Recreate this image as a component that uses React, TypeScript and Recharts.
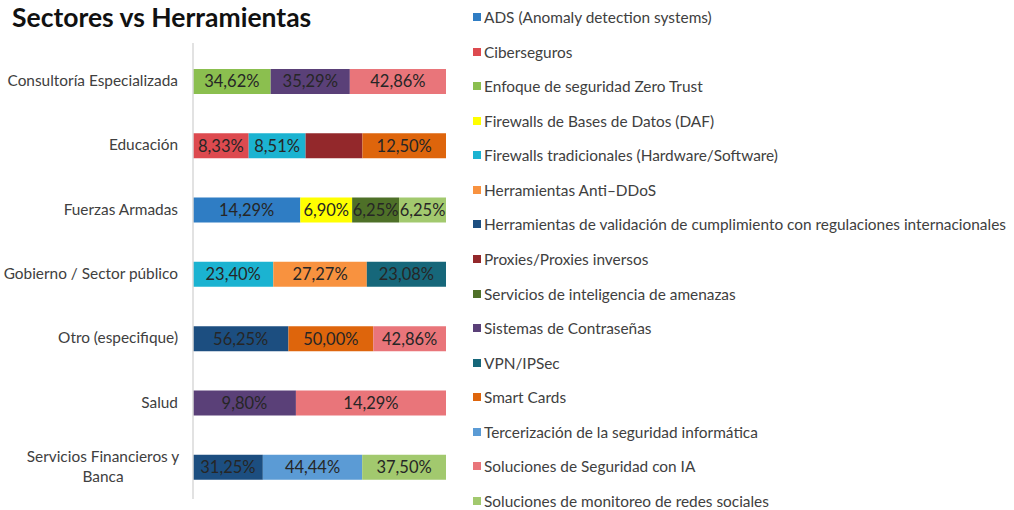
import { BarChart, Bar, XAxis, YAxis, LabelList } from 'recharts';

const SECTORS = [
  'Consultoría Especializada',
  'Educación',
  'Fuerzas Armadas',
  'Gobierno / Sector público',
  'Otro (especifique)',
  'Salud',
  'Servicios Financieros y Banca',
];

const TOOLS = [
  'ADS (Anomaly detection systems)',
  'Ciberseguros',
  'Enfoque de seguridad Zero Trust',
  'Firewalls de Bases de Datos (DAF)',
  'Firewalls tradicionales (Hardware/Software)',
  'Herramientas Anti–DDoS',
  'Herramientas de validación de cumplimiento con regulaciones internacionales',
  'Proxies/Proxies inversos',
  'Servicios de inteligencia de amenazas',
  'Sistemas de Contraseñas',
  'VPN/IPSec',
  'Smart Cards',
  'Tercerización de la seguridad informática',
  'Soluciones de Seguridad con IA',
  'Soluciones de monitoreo de redes sociales',
];

const COLORS = [
  '#2F7DC4', '#DD4A4F', '#8BBF4F', '#FFFF00', '#1BB3D1',
  '#F8923F', '#1C4E80', '#93282B', '#4E7028', '#5A4078',
  '#16677A', '#DE650C', '#5B9BD5', '#E9757A', '#A2C96E',
];

// values per tool, one entry per sector (null = not present)
const ADS = [null, null, 14.29, null, null, null, null];
const CIBERSEGUROS = [null, 8.33, null, null, null, null, null];
const ZERO_TRUST = [34.62, null, null, null, null, null, null];
const DAF = [null, null, 6.9, null, null, null, null];
const FIREWALLS = [null, 8.51, null, 23.4, null, null, null];
const ANTI_DDOS = [null, null, null, 27.27, null, null, null];
const VALIDACION = [null, null, null, null, 56.25, null, 31.25];
const PROXIES = [null, 8.5, null, null, null, null, null];
const INTELIGENCIA = [null, null, 6.25, null, null, null, null];
const CONTRASENAS = [35.29, null, null, null, null, 9.8, null];
const VPN = [null, null, null, 23.08, null, null, null];
const SMART_CARDS = [null, 12.5, null, null, 50.0, null, null];
const TERCERIZACION = [null, null, null, null, null, null, 44.44];
const IA = [42.86, null, null, null, 42.86, 14.29, null];
const MONITOREO = [null, null, 6.25, null, null, null, 37.5];

const VALUES = [
  ADS, CIBERSEGUROS, ZERO_TRUST, DAF, FIREWALLS, ANTI_DDOS, VALIDACION, PROXIES,
  INTELIGENCIA, CONTRASENAS, VPN, SMART_CARDS, TERCERIZACION, IA, MONITOREO,
];

// label of the proxies segment is not legible in the source
const HIDDEN_LABELS = [7];

const data = SECTORS.map((name, i) => {
  const row: Record<string, string | number | null> = { name };
  TOOLS.forEach((_, t) => {
    row[`s${t}`] = VALUES[t][i];
  });
  return row;
});

const fmt = (v: any) => (v == null || v === '' ? '' : `${Number(v).toFixed(2).replace('.', ',')}%`);

const FONT = 'Lato, "Open Sans", sans-serif';

const SectorTick = (props: any) => {
  const { x, y, payload } = props;
  const label: string = payload.value;
  if (label.length > 25) {
    const cut = label.lastIndexOf(' ');
    return (
      <text x={x - 75} y={y} textAnchor="middle" fill="#404040" fontSize={15.4} fontFamily={FONT}>
        <tspan x={x - 75} dy={-5}>{label.slice(0, cut)}</tspan>
        <tspan x={x - 75} dy={20}>{label.slice(cut + 1)}</tspan>
      </text>
    );
  }
  return (
    <text x={x} y={y} dy={5} textAnchor="end" fill="#404040" fontSize={15.4} fontFamily={FONT}>
      {label}
    </text>
  );
};

export default function App() {
  return (
    <div style={{ position: 'absolute', left: 0, top: 0, width: 1014, height: 510, background: '#fff', fontFamily: FONT }}>
      <div style={{ position: 'absolute', left: 12, top: 1, fontSize: 26.5, fontWeight: 700, color: '#111' }}>
        Sectores vs Herramientas
      </div>
      <BarChart
        width={1014}
        height={510}
        data={data}
        layout="vertical"
        stackOffset="expand"
        barSize={25}
        margin={{ top: 43, right: 568, bottom: 11, left: 8 }}
      >
        <XAxis type="number" hide domain={[0, 1]} />
        <YAxis
          type="category"
          dataKey="name"
          width={185}
          tickLine={false}
          tickSize={0}
          tickMargin={15}
          axisLine={{ stroke: '#D9D9D9', strokeWidth: 1.5 }}
          padding={{ top: 6, bottom: 0 }}
          tick={<SectorTick />}
          interval={0}
        />
        {TOOLS.map((tool, t) => (
          <Bar key={tool} dataKey={`s${t}`} name={tool} stackId="a" fill={COLORS[t]} isAnimationActive={false}>
            {!HIDDEN_LABELS.includes(t) && (
              <LabelList
                dataKey={`s${t}`}
                position="center"
                formatter={fmt}
                fill="#262626"
                fontSize={16.5}
                fontFamily={FONT}
              />
            )}
          </Bar>
        ))}
      </BarChart>
      <div style={{ position: 'absolute', left: 473, top: 0 }}>
        {TOOLS.map((tool, t) => (
          <div
            key={tool}
            style={{ position: 'absolute', top: 17 + t * 34.57 - 10, height: 20, display: 'flex', alignItems: 'center', whiteSpace: 'nowrap' }}
          >
            <span style={{ width: 8, height: 8, background: COLORS[t], display: 'inline-block', marginRight: 3 }} />
            <span style={{ fontSize: 15.4, color: '#404040' }}>{tool}</span>
          </div>
        ))}
      </div>
    </div>
  );
}
